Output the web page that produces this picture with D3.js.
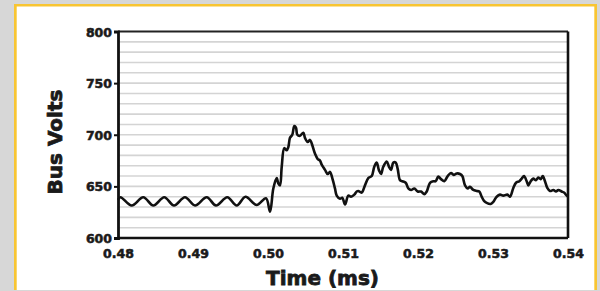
<!DOCTYPE html>
<html>
<head>
<meta charset="utf-8">
<script src="https://unpkg.com/d3@7/dist/d3.min.js"></script>
<style>
  body { margin: 0; background: #d7d7d7; }
  svg { display: block; }
  .tick-label { font-family: "DejaVu Sans", sans-serif; font-weight: bold; font-size: 12.5px; fill: #1a1a1a; stroke: #1a1a1a; stroke-width: 0.55px; }
  .axis-title { font-family: "DejaVu Sans", sans-serif; font-weight: bold; font-size: 20px; fill: #1a1a1a; stroke: #1a1a1a; stroke-width: 0.8px; }
</style>
</head>
<body>
<div class="chart"></div>
<script>
// x ticks (ms) and y ticks (volts)
const xTicks = [0.48, 0.49, 0.50, 0.51, 0.52, 0.53, 0.54];
const yTicks = [600, 650, 700, 750, 800];
const yGrid = [610, 620, 630, 640, 650, 660, 670, 680, 690, 700, 710, 720, 730, 740, 750, 760, 770, 780, 790];

// bus voltage trace
const timeMs = [
  0.48000, 0.48033, 0.48183, 0.48337, 0.48471, 0.48617, 0.48747, 0.48893, 0.49027,
  0.49183, 0.49307, 0.49457, 0.49583, 0.49700, 0.49849, 0.49973, 0.50027,
  0.50071, 0.50116, 0.50137, 0.50160, 0.50183, 0.50217, 0.50249, 0.50271, 0.50293,
  0.50324, 0.50351, 0.50373, 0.50391, 0.50427, 0.50471, 0.50493, 0.50529, 0.50560,
  0.50583, 0.50627, 0.50663, 0.50693, 0.50716, 0.50760, 0.50796, 0.50827, 0.50857,
  0.50893, 0.50916, 0.50960, 0.50991, 0.51027, 0.51071, 0.51107, 0.51151, 0.51183,
  0.51204, 0.51249, 0.51293, 0.51337, 0.51383, 0.51417, 0.51449, 0.51480, 0.51507,
  0.51537, 0.51583, 0.51613, 0.51640, 0.51671, 0.51703, 0.51729, 0.51760, 0.51791,
  0.51836, 0.51871, 0.51907, 0.51951, 0.51996, 0.52040, 0.52084, 0.52116, 0.52160,
  0.52204, 0.52236, 0.52271, 0.52307, 0.52351, 0.52396, 0.52440, 0.52476, 0.52516,
  0.52560, 0.52591, 0.52627, 0.52663, 0.52693, 0.52737, 0.52783, 0.52817, 0.52849,
  0.52880, 0.52916, 0.52969, 0.53004, 0.53049, 0.53093, 0.53137, 0.53191, 0.53227,
  0.53271, 0.53307, 0.53351, 0.53383, 0.53413, 0.53449, 0.53471, 0.53503, 0.53537,
  0.53573, 0.53604, 0.53636, 0.53663, 0.53693, 0.53724, 0.53760, 0.53804, 0.53840,
  0.53871, 0.53916, 0.53947, 0.53983, 0.54000
];
const busVolts = [
  637, 639.5, 631.5, 639.5, 631.5, 639.5, 631.5, 639.5, 631.5,
  639.5, 631.5, 639.5, 631.5, 640, 632, 638.5, 625.5,
  648, 658, 653, 651, 669, 687, 685, 688, 697,
  700, 708.5, 707, 700, 699, 702, 697, 693, 695,
  691.5, 681.5, 676.5, 675, 671, 666, 662, 664, 658,
  648, 641, 638, 639, 632.5, 641, 640, 642, 645,
  645.5, 644, 651, 658, 660, 669, 673, 665.5, 662,
  669, 674, 669, 666, 673, 673, 667, 656, 655,
  653.5, 648, 646.5, 648, 645, 645, 642.5, 645, 653.5,
  655, 655, 659.5, 657, 655, 660, 663, 661, 662.5,
  662, 660, 651, 648, 649.5, 646.5, 645.5, 645, 640,
  636, 634, 633, 635, 640, 642, 641, 642, 640,
  648.5, 653.5, 655, 657.5, 660, 655, 651, 655, 657.5,
  656, 658.5, 657, 660, 655, 648.5, 645.5, 646.5, 645,
  646.5, 645, 644, 641, 640
];

const W = 600, H = 291;
const margin = { top: 31.5, right: 32, bottom: 53, left: 118 };
const width = W - margin.left - margin.right,
  height = H - margin.top - margin.bottom;

const root = d3.select(".chart").append("svg").attr("width", W).attr("height", H);

// panel with yellow frame
root.append("rect").attr("x", 14).attr("y", 4).attr("width", 583).attr("height", 286).attr("fill", "#f8c532");
root.append("rect").attr("x", 16.7).attr("y", 6.5).attr("width", 577.6).attr("height", 283.5).attr("fill", "#ffffff");

const svg = root.append("g").attr("transform", "translate(" + margin.left + "," + margin.top + ")");

const xScale = d3.scaleLinear().domain([0.48, 0.54]).range([0, width]);
const yScale = d3.scaleLinear().domain([600, 800]).range([height, 0]);

// gridlines
svg.selectAll(".grid")
  .data(yGrid)
  .enter()
  .append("line")
  .attr("class", "grid")
  .attr("x1", 0)
  .attr("x2", width)
  .attr("y1", (d) => yScale(d))
  .attr("y2", (d) => yScale(d))
  .attr("stroke", "#d4d4d4")
  .attr("stroke-width", 1.6);

// trace
const line = d3.line()
  .x((d, i) => xScale(timeMs[i]))
  .y((d) => yScale(d))
  .curve(d3.curveCatmullRom);

svg.append("path")
  .datum(busVolts)
  .attr("fill", "none")
  .attr("stroke", "#111")
  .attr("stroke-width", 2.6)
  .attr("stroke-linejoin", "round")
  .attr("d", line);

// frame
svg.append("line").attr("x1", 0).attr("x2", width).attr("y1", 0).attr("y2", 0)
  .attr("stroke", "#222").attr("stroke-width", 1.8);
svg.append("line").attr("x1", 0).attr("x2", width).attr("y1", height).attr("y2", height)
  .attr("stroke", "#111").attr("stroke-width", 2.4);
svg.append("line").attr("x1", width).attr("x2", width).attr("y1", 0).attr("y2", height)
  .attr("stroke", "#111").attr("stroke-width", 2.6);

// y axis
const yAxis = d3.axisLeft(yScale).tickValues(yTicks).tickSize(4).tickPadding(2);
const gy = svg.append("g").attr("class", "y axis").call(yAxis);
gy.select(".domain").attr("stroke", "#111").attr("stroke-width", 2.8);
gy.selectAll(".tick line").attr("stroke", "#111").attr("stroke-width", 2);
gy.selectAll("text").attr("class", "tick-label").attr("dy", "0.36em");

// x axis
const xAxis = d3.axisBottom(xScale).tickValues(xTicks).tickSize(0).tickPadding(11)
  .tickFormat(d3.format(".2f"));
const gx = svg.append("g").attr("class", "x axis").attr("transform", `translate(0,${height})`).call(xAxis);
gx.select(".domain").remove();
gx.selectAll("text").attr("class", "tick-label");

// titles
svg.append("text")
  .attr("class", "axis-title")
  .attr("text-anchor", "middle")
  .attr("transform", `translate(${62 - margin.left},${142 - margin.top}) rotate(-90)`)
  .text("Bus Volts");

svg.append("text")
  .attr("class", "axis-title")
  .attr("text-anchor", "middle")
  .attr("x", 322.5 - margin.left)
  .attr("y", 285 - margin.top)
  .text("Time (ms)");
</script>
</body>
</html>
